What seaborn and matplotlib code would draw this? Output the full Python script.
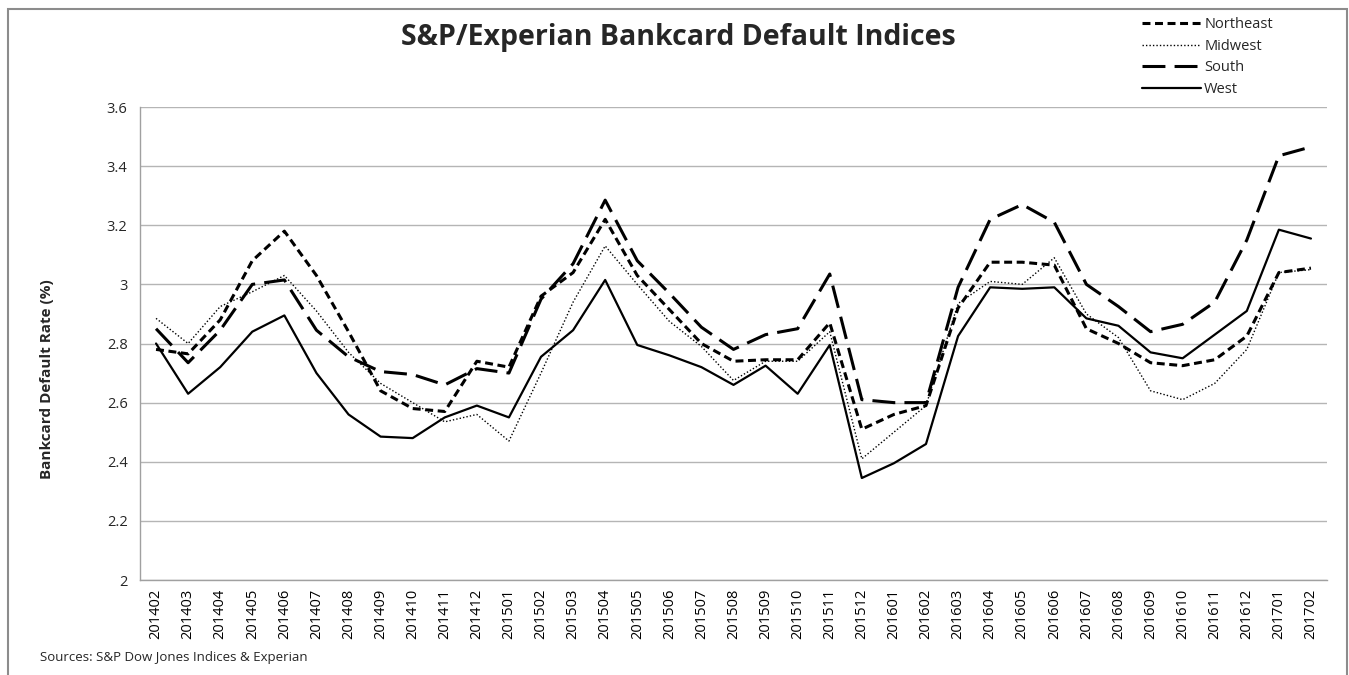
import numpy as np
import pandas as pd
import seaborn as sns
import matplotlib.pyplot as plt
from matplotlib.patches import Rectangle

months = ["201402", "201403", "201404", "201405", "201406", "201407", "201408", "201409",
          "201410", "201411", "201412", "201501", "201502", "201503", "201504", "201505",
          "201506", "201507", "201508", "201509", "201510", "201511", "201512", "201601",
          "201602", "201603", "201604", "201605", "201606", "201607", "201608", "201609",
          "201610", "201611", "201612", "201701", "201702"]

northeast = [2.78, 2.765, 2.88, 3.08, 3.18, 3.03, 2.84, 2.64, 2.58, 2.57, 2.74, 2.72,
             2.96, 3.04, 3.22, 3.03, 2.915, 2.80, 2.74, 2.745, 2.745, 2.87, 2.51, 2.56,
             2.59, 2.92, 3.075, 3.075, 3.065, 2.85, 2.80, 2.735, 2.725, 2.745, 2.825, 3.04, 3.055]
midwest = [2.885, 2.80, 2.925, 2.975, 3.03, 2.91, 2.77, 2.665, 2.60, 2.535, 2.56, 2.47,
           2.70, 2.94, 3.13, 3.00, 2.875, 2.79, 2.675, 2.74, 2.74, 2.84, 2.41, 2.50,
           2.59, 2.935, 3.01, 3.00, 3.09, 2.90, 2.82, 2.64, 2.61, 2.665, 2.78, 3.04, 3.05]
south = [2.85, 2.735, 2.845, 3.00, 3.015, 2.845, 2.755, 2.705, 2.695, 2.66, 2.715, 2.70,
         2.95, 3.07, 3.285, 3.08, 2.97, 2.855, 2.78, 2.83, 2.85, 3.035, 2.61, 2.60,
         2.60, 2.99, 3.22, 3.27, 3.21, 3.00, 2.925, 2.84, 2.865, 2.94, 3.15, 3.435, 3.465]
west = [2.80, 2.63, 2.72, 2.84, 2.895, 2.70, 2.56, 2.485, 2.48, 2.55, 2.59, 2.55,
        2.755, 2.845, 3.015, 2.795, 2.76, 2.72, 2.66, 2.725, 2.63, 2.795, 2.345, 2.395,
        2.46, 2.825, 2.99, 2.985, 2.99, 2.885, 2.86, 2.77, 2.75, 2.83, 2.91, 3.185, 3.155]

series = {"Northeast": northeast, "Midwest": midwest, "South": south, "West": west}
styles = {
    "Northeast": dict(lw=2.2, dashes=(2.6, 1.5)),
    "Midwest": dict(lw=1.0, dashes=(1.0, 1.5)),
    "South": dict(lw=2.2, dashes=(7.5, 3.0)),
    "West": dict(lw=1.6, dashes=None),
}

sns.set_style("white")
plt.rcParams["font.family"] = ["Open Sans", "DejaVu Sans"]

fig = plt.figure(figsize=(13.49, 6.75), dpi=100)
ax = fig.add_axes([140 / 1349, 1 - 580 / 675, (1327 - 140) / 1349, (580 - 107) / 675])

for name, values in series.items():
    df = pd.DataFrame({"month": months, "rate": values})
    st = styles[name]
    line_ax = sns.lineplot(data=df, x="month", y="rate", ax=ax, color="black",
                           linewidth=st["lw"], label=name, sort=False)
    line = line_ax.lines[-1]
    if st["dashes"] is not None:
        line.set_dashes(st["dashes"])

ax.set_xlim(-0.5, len(months) - 0.5)
ax.set_ylim(2, 3.6)
ax.set_yticks(np.arange(2, 3.61, 0.2))
ax.set_yticklabels(["2", "2.2", "2.4", "2.6", "2.8", "3", "3.2", "3.4", "3.6"])
ax.yaxis.grid(True, color="#b5b5b5", linewidth=1)
ax.xaxis.grid(False)

ax.set_xticks(range(len(months)))
ax.set_xticklabels(months, rotation=90)
ax.set_xticks(np.arange(-0.5, len(months), 1), minor=True)
ax.tick_params(axis="x", which="major", length=0, pad=6, labelsize=10.5, colors="black")
ax.tick_params(axis="x", which="minor", length=5, color="#a0a0a0", width=1)
ax.tick_params(axis="y", which="major", length=5, color="#a0a0a0", labelsize=10.5, pad=4)

for s in ["top", "right"]:
    ax.spines[s].set_visible(False)
for s in ["left", "bottom"]:
    ax.spines[s].set_color("#a0a0a0")
    ax.spines[s].set_linewidth(1)

ax.set_xlabel("")
ax.set_ylabel("")
fig.text(47 / 1349, 1 - 379 / 675, "Bankcard Default Rate (%)", rotation=90,
         ha="center", va="center", fontsize=11, fontweight="bold",
         family=["Liberation Sans Narrow", "Open Sans"])

fig.text(678 / 1349, 1 - 38 / 675, "S&P/Experian Bankcard Default Indices",
         ha="center", va="center", fontsize=20.5, fontweight="bold")
fig.text(40 / 1349, 1 - 657 / 675, "Sources: S&P Dow Jones Indices & Experian",
         ha="left", va="center", fontsize=9.5)

leg = ax.legend(loc="upper left", bbox_to_anchor=(1135 / 1349, 1 - 10 / 675),
                bbox_transform=fig.transFigure, frameon=False, fontsize=10.5,
                handlelength=4.0, handletextpad=0.25, labelspacing=0.45, borderpad=0)

fig.add_artist(Rectangle((8 / 1349, -0.05), (1347 - 8) / 1349, 1.05 - 9 / 675,
                         transform=fig.transFigure, fill=False, edgecolor="#8c8c8c",
                         linewidth=1.5))

fig.savefig("out.png", dpi=100)
